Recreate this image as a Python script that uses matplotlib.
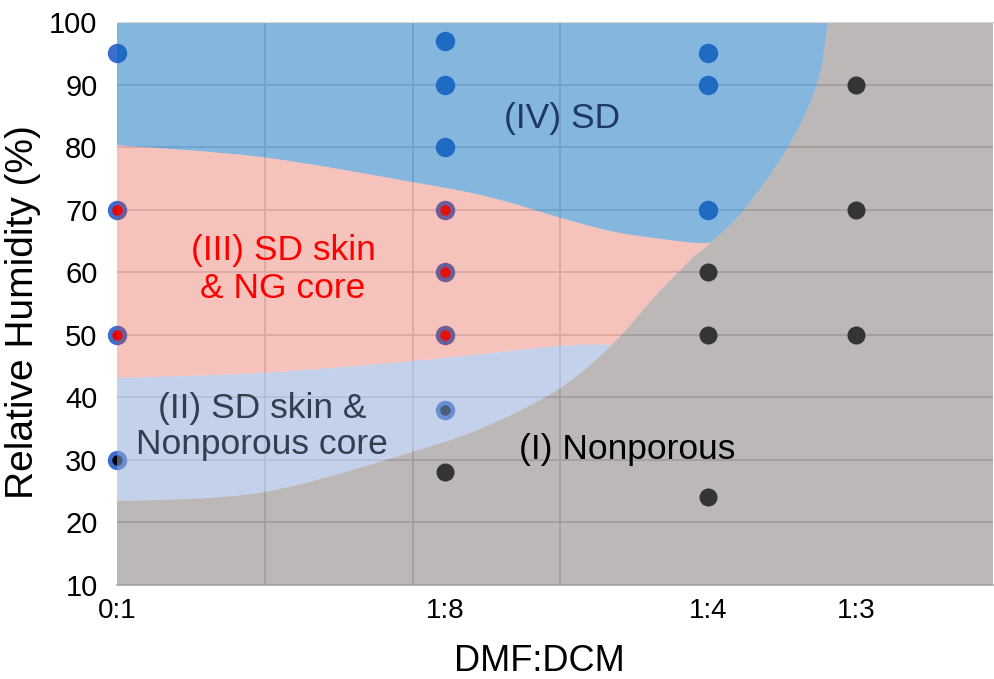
import numpy as np
import matplotlib
matplotlib.use("Agg")
import matplotlib.pyplot as plt
from matplotlib.path import Path
from matplotlib.patches import PathPatch
from matplotlib.ticker import FixedLocator

# --- solvent ratio axis (DMF volume fraction) ---
ratio_labels = ["0:1", "1:8", "1:4", "1:3"]
ratio_values = [0.0, 1 / 9, 0.2, 0.25]

# --- experimental points, grouped by observed morphology ---
sd_x = [0.0, 1 / 9, 1 / 9, 1 / 9, 0.2, 0.2, 0.2]
sd_rh = [95, 97, 90, 80, 95, 90, 70]
ng_x = [0.0, 0.0, 1 / 9, 1 / 9, 1 / 9]
ng_rh = [70, 50, 70, 60, 50]
skin_x = [0.0, 1 / 9]
skin_rh = [30, 38]
dense_x = [1 / 9, 0.2, 0.2, 0.2, 0.25, 0.25, 0.25]
dense_rh = [28, 60, 50, 24, 90, 70, 50]

# --- phase boundaries ---
# upper edge of the nonporous region (I)
gray_edge_x = [0.0, 0.049, 0.100, 0.126, 0.150, 0.1675, 0.181, 0.193,
               0.2007, 0.212, 0.227, 0.237, 0.2406]
gray_edge_rh = [23.4, 24.8, 31.3, 35.6, 41.5, 48.4, 55.6, 61.5,
                64.7, 69.9, 80.0, 90.2, 100.0]
# lower edge of the SD region (IV)
blue_edge_x = [0.0, 0.049, 0.100, 0.126, 0.153, 0.170, 0.193, 0.2007]
blue_edge_rh = [80.3, 78.4, 74.4, 72.0, 68.3, 66.3, 64.8, 64.7]
# border between regions III and II
light_edge_x = [0.0, 0.049, 0.100, 0.150, 0.1675]
light_edge_rh = [43.1, 43.9, 45.8, 48.2, 48.4]

FONT = "Liberation Sans"
plt.rcParams["font.family"] = [FONT, "DejaVu Sans"]


def curve(xs, ys):
    """Catmull-Rom curve through the points, as cubic Bezier segments."""
    p = np.column_stack([xs, ys])
    n = len(p)
    segs = []
    for i in range(n - 1):
        p0, p1, p2, p3 = p[max(i - 1, 0)], p[i], p[i + 1], p[min(i + 2, n - 1)]
        segs.append([p1, p1 + (p2 - p0) / 6, p2 - (p3 - p1) / 6, p2])
    return segs


def rev(segs):
    return [s[::-1] for s in segs[::-1]]


def region(start, *parts):
    """Closed path: tuples are straight corners, lists are curve pieces."""
    verts, codes = [start], [Path.MOVETO]
    for part in parts:
        if isinstance(part, tuple):
            verts.append(part)
            codes.append(Path.LINETO)
        else:
            for s in part:
                verts += [tuple(s[1]), tuple(s[2]), tuple(s[3])]
                codes += [Path.CURVE4] * 3
    verts.append(start)
    codes.append(Path.CLOSEPOLY)
    return Path(verts, codes)


gray = curve(gray_edge_x, gray_edge_rh)
blue = curve(blue_edge_x, blue_edge_rh)
light = curve(light_edge_x, light_edge_rh)
x_max = 0.2964

fig = plt.figure(figsize=(9.95, 6.79), dpi=100)
ax = fig.add_axes([117 / 995, 94 / 679, 876 / 995, 563 / 679])
ax.set_xlim(0, x_max)
ax.set_ylim(10, 100)

# grid (Excel style) sits under everything
ax.set_axisbelow(True)
ax.xaxis.set_minor_locator(FixedLocator(np.arange(0, 0.26, 0.05)))
ax.grid(which="minor", axis="x", color="#D9D9D9", lw=1.3)
ax.grid(which="major", axis="y", color="#D9D9D9", lw=1.3)

# markers, drawn beneath the translucent phase overlays
ms, ms_in = 14, 7.5
ax.plot(sd_x, sd_rh, "o", ms=ms, color="#3C6ECD", mew=0, zorder=2, clip_on=False)
ax.plot(ng_x, ng_rh, "o", ms=ms, color="#3C6ECD", mew=0, zorder=2, clip_on=False)
ax.plot(ng_x, ng_rh, "o", ms=ms_in, color="#E60000", mew=0, zorder=2.1, clip_on=False)
ax.plot(skin_x, skin_rh, "o", ms=ms, color="#3C6ECD", mew=0, zorder=2, clip_on=False)
ax.plot(skin_x, skin_rh, "o", ms=ms_in, color="#000000", mew=0, zorder=2.1, clip_on=False)
ax.plot(dense_x, dense_rh, "o", ms=13, color="#3E4141", mew=0, zorder=2, clip_on=False)

# phase overlays
gx_top = gray_edge_x[-1]
overlays = [
    (region((0.0, 100.0), (gx_top, 100.0), rev(gray[8:]), rev(blue)), "#0067BA", 0.48),
    (region((0.0, blue_edge_rh[0]), blue, rev(gray[5:8]), rev(light)), "#E13723", 0.30),
    (region((0.0, light_edge_rh[0]), light, rev(gray[:5])), "#91ABD9", 0.54),
    (region((0.0, 10.0), (0.0, gray_edge_rh[0]), gray, (x_max, 100.0), (x_max, 10.0)),
     "#231612", 0.30),
]
for path, color, alpha in overlays:
    ax.add_patch(PathPatch(path, facecolor=color, alpha=alpha, lw=0, zorder=3))

# region labels
label_kw = dict(ha="center", va="center", fontsize=25.5, zorder=4, multialignment="center")
ax.text(0.1506, 84.6, "(IV) SD", color="#1F3864", **label_kw)
ax.text(0.0562, 60.4, "(III) SD skin\n& NG core", color="#FF0000", linespacing=1.2, **label_kw)
ax.text(0.0490, 35.3, "(II) SD skin &\nNonporous core", color="#323F4F", linespacing=1.1,
        **label_kw)
ax.text(0.1726, 31.6, "(I) Nonporous", color="#000000", **label_kw)

# axes
ax.set_xticks(ratio_values)
ax.set_xticklabels(ratio_labels)
ax.set_yticks(np.arange(10, 101, 10))
ax.tick_params(axis="x", which="both", length=0, pad=9, labelsize=20)
ax.tick_params(axis="y", length=0, pad=14, labelsize=21)
for side in ("left", "right"):
    ax.spines[side].set_visible(False)
ax.spines["top"].set_color("#D9D9D9")
ax.spines["top"].set_zorder(5)
ax.spines["bottom"].set_color("#A6A6A6")
ax.spines["bottom"].set_linewidth(1.2)
ax.spines["bottom"].set_zorder(5)

ax.set_xlabel("DMF:DCM", fontsize=26)
ax.xaxis.set_label_coords(0.482, -0.105)
ax.set_ylabel("Relative Humidity (%)", fontsize=28)
ax.yaxis.set_label_coords(-0.087, 0.485)

fig.savefig("out.png", dpi=100)
